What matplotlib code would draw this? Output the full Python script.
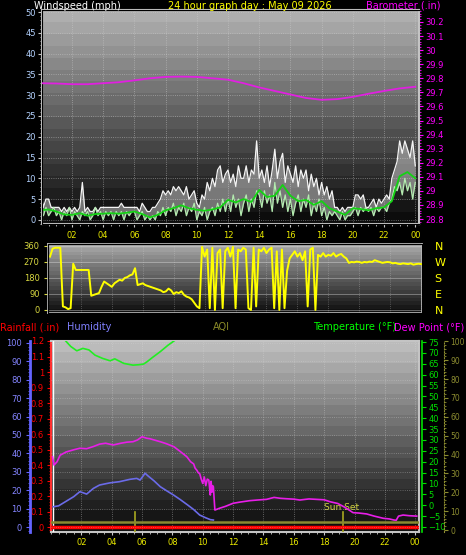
import numpy as np
import matplotlib
matplotlib.use("Agg")
import matplotlib.pyplot as plt
from matplotlib.colors import LinearSegmentedColormap
from matplotlib.ticker import MultipleLocator, FuncFormatter

W, H = 466, 555

# ---- wind, 10 minute samples (mph) ----
step10 = 1 / 6
gust = [7, 3, 5, 5, 3, 3, 3, 3, 2, 3, 2, 3, 2, 3, 2, 3, 9, 2, 3, 2, 2, 3, 2, 3,
        3, 3, 3, 3, 3, 3, 3, 4, 3, 3, 3, 3, 3, 3, 2, 4, 3, 2, 2, 3, 3, 4, 5, 7,
        6, 7, 6, 8, 7, 8, 7, 6, 8, 5, 6, 7, 4, 3, 6, 5, 9, 7, 10, 8, 12, 13, 9, 11,
        12, 9, 11, 8, 13, 10, 10, 13, 9, 12, 11, 19, 10, 12, 9, 13, 8, 12,
        17, 10, 14, 16, 9, 13, 11, 9, 13, 8, 12, 10, 12, 7, 11, 8, 10, 6,
        9, 6, 8, 5, 7, 3, 3, 2, 3, 2, 3, 3, 3, 6, 6, 5, 6, 3, 3, 4, 5, 3, 5, 4,
        5, 6, 5, 10, 12, 14, 19, 16, 19, 17, 15, 19, 13]
speed = [2, 1, 3, 1, 2, 3, 1, 2, 0, 2, 1, 3, 0, 2, 1, 0, 2, 1, 2, 0, 1, 3, 1, 2,
         0, 2, 1, 2, 0, 2, 1, 2, 0, 2, 1, 2, 2, 0, 1, 2, 0, 1, 0, 1, 0, 2, 1, 3,
         1, 3, 2, 4, 1, 3, 2, 4, 1, 3, 2, 4, 0, 2, 1, 3, 0, 2, 3, 1, 4, 2, 5, 2,
         5, 2, 6, 3, 5, 1, 4, 6, 2, 5, 3, 7, 6, 3, 7, 4, 6, 2, 9, 4, 7, 3, 6, 2,
         5, 1, 4, 6, 2, 5, 3, 6, 1, 4, 2, 5, 1, 3, 0, 2, 1, 2, 1, 0, 2, 0, 1, 1,
         2, 3, 1, 3, 2, 3, 2, 3, 1, 3, 2, 3, 3, 2, 4, 5, 8, 7, 9, 6, 10, 7, 9, 5, 9]
wind_hours = np.arange(len(gust)) * step10

avg_wind = [2.3, 2.5, 2.0, 1.3, 1.2, 1.6, 1.0, 1.4, 1.5, 1.6, 1.5, 1.7, 2.0, 1.4,
            0.6, 1.2, 2.3, 2.8, 3.5, 2.8, 2.4, 2.2, 2.5, 3.0, 4.8, 4.2, 5.0, 4.3,
            7.2, 5.5, 5.8, 8.4, 5.8, 4.5, 4.8, 3.6, 4.5, 2.8, 2.0, 1.2, 2.8, 2.6,
            2.3, 2.8, 3.0, 4.5, 10.5, 11.5, 10.0]
avg_hours = np.arange(len(avg_wind)) * 0.5

# ---- barometer, hourly (in) ----
baro = [29.765, 29.763, 29.758, 29.758, 29.765, 29.772, 29.785, 29.80, 29.81,
        29.812, 29.81, 29.80, 29.79, 29.765, 29.735, 29.71, 29.685, 29.66,
        29.647, 29.652, 29.668, 29.69, 29.71, 29.728, 29.74]
baro_hours = np.arange(len(baro))

# ---- wind direction, 10 minute samples (deg) ----
wind_dir = [300, 345, 350, 350, 350, 20, 15, 5, 10, 260, 225, 225,
            225, 225, 225, 225, 80, 85, 90, 95, 130, 160, 150, 140,
            130, 150, 160, 170, 165, 180, 185, 195, 200, 235, 140, 145,
            150, 140, 135, 130, 125, 120, 115, 110, 100, 105, 120, 110,
            90, 100, 95, 105, 85, 75, 70, 60, 40, 20, 10, 355,
            300, 340, 10, 350, 0, 320, 340, 10, 330, 350, 300, 355,
            10, 340, 330, 350, 340, 10, 0, 350, 20, 340, 330, 350,
            320, 340, 350, 10, 330, 0, 340, 10, 220, 290, 310, 330,
            300, 320, 280, 330, 20, 340, 350, 0, 310, 300, 320, 300,
            310, 305, 320, 300, 310, 315, 300, 290, 265, 270, 268, 272,
            270, 265, 270, 268, 272, 270, 280, 275, 270, 265, 268, 270,
            268, 262, 265, 260, 258, 262, 260, 258, 262, 255, 258, 260, 258]
dir_hours = np.arange(len(wind_dir)) * step10

# ---- bottom panel ----
hum_hours = [0.15, 0.5, 1.0, 1.5, 1.9, 2.35, 2.8, 3.2, 3.6, 3.9, 4.5, 5.2, 5.65,
             5.87, 6.2, 6.4, 6.8, 7.2, 7.6, 8.07, 8.5, 9.0, 9.4, 9.8, 10.2, 10.5, 10.7]
humidity = [11, 11.5, 14, 16.5, 19.2, 17.9, 21, 22.8, 23.5, 24, 24.6, 25.9, 26.4,
            25.5, 29.2, 27.7, 25, 21.9, 19.8, 17.4, 15, 12, 9.5, 6.5, 5, 4, 3.8]

temp_hours = [0.0, 0.3, 0.6, 0.92, 1.3, 1.7, 2.1, 2.5, 2.9, 3.4, 3.9, 4.2, 4.8,
              5.4, 5.8, 6.1, 6.3, 6.7, 7.2, 7.7, 8.2, 8.5]
temperature = [81, 79, 77.5, 75.9, 73, 71, 72.1, 71.4, 69, 67.5, 66.4, 67.3, 65.2,
               64.4, 64.6, 64.9, 65.8, 68, 70.6, 73.5, 76, 78]

dew_hours = [0.1, 0.2, 0.4, 0.6, 1.0, 1.5, 1.9, 2.35, 2.8, 3.2, 3.6, 4.1, 4.6, 5.0,
             5.4, 5.7, 6.0, 6.3, 6.5, 6.8, 7.2, 7.6, 8.1, 8.5, 8.95, 9.2, 9.4, 9.5,
             9.6, 9.7, 9.8, 9.9, 10.0, 10.1, 10.2, 10.3, 10.4, 10.45, 10.5, 10.55,
             10.6, 10.65, 10.7, 10.75, 10.8, 11.1, 11.5, 12.0, 12.5, 13.1, 13.6,
             14.2, 14.7, 15.1, 15.5, 16.0, 16.4, 17.0, 17.5, 18.0, 18.4, 18.9,
             19.3, 19.6, 19.9, 20.3, 20.8, 21.3, 21.9, 22.3, 22.6, 22.75, 22.9,
             23.2, 23.6, 24.1]
dew_point = [22.3, 18.5, 20, 23, 24.5, 25.5, 26.2, 26, 27, 28.1, 28.5, 27.7, 28.5,
             29, 29.2, 30, 31.5, 30.8, 30.6, 30, 29.2, 28.3, 26.9, 24.8, 22.3, 20,
             19, 17, 16.2, 15, 14.5, 12, 10, 13, 9, 12, 11.6, 8, 4.7, 11, 6, 9,
             8.5, 3, -2.2, -1.4, -0.5, 0.9, 1.5, 2.1, 2.4, 2.7, 3.6, 3.2, 3, 2.8,
             2.4, 2.9, 2.7, 2.5, 1.6, 0.8, -0.7, -2, -3.4, -3.6, -4, -5, -6, -6.3,
             -6.8, -6.9, -5, -4.5, -4.8, -5]

rain_hours = [0, 24.25]
rainfall = [0.0, 0.0]
aqi_hours = [0, 24.25]
aqi = [4.4, 4.4]
sunrise, sunset = 5.54, 19.23

hour_ticks = list(range(2, 25, 2))
hour_labels = ['02', '04', '06', '08', '10', '12', '14', '16', '18', '20', '22', '00']


fig = plt.figure(figsize=(W / 100, H / 100), dpi=100, facecolor='black')


def box(l, t, r, b):
    ax = fig.add_axes([l / W, 1 - b / H, (r - l) / W, (b - t) / H])
    ax.set_facecolor('black')
    return ax


def shade(ax, top, bottom, bands=18):
    cmap = LinearSegmentedColormap.from_list('shade', [bottom, top])
    vals = np.floor(np.linspace(1, 0, 300) * bands) / bands
    ax.imshow(vals[:, None], cmap=cmap, vmin=0, vmax=1, extent=(0, 1, 0, 1),
              transform=ax.transAxes, aspect='auto', zorder=0, interpolation='nearest')


fmt_g = FuncFormatter(lambda v, p: f'{v:.2f}'.rstrip('0').rstrip('.'))
TS = 6

# ---------- windspeed / barometer ----------
ax1 = box(42, 10, 419, 224)
shade(ax1, '#b8b8b8', '#0c0c0c')
ax1.fill_between(wind_hours, speed, gust, color='#e8e8e8', alpha=0.45, lw=0, zorder=2)
ax1.plot(wind_hours, gust, color='#f4f4f4', lw=0.9, zorder=3)
ax1.plot(wind_hours, speed, color='#b4ecb0', lw=0.9, zorder=4)
ax1.plot(avg_hours, avg_wind, color='#14d214', lw=1.3, zorder=5)
ax1.set_xlim(0.08, 24.24)
ax1.set_ylim(-1, 50.5)
ax1.yaxis.set_major_locator(MultipleLocator(5))
ax1.yaxis.set_minor_locator(MultipleLocator(1))
ax1.set_xticks(hour_ticks, hour_labels)
ax1.xaxis.set_minor_locator(MultipleLocator(0.5))
ax1.tick_params(axis='y', colors='#c8c8c8', labelcolor='#b4d2ff', labelsize=TS,
                length=3, width=0.8, pad=1.5)
ax1.tick_params(axis='y', which='minor', colors='#c8c8c8', length=1.5)
ax1.tick_params(axis='x', colors='#c8c8c8', labelcolor='#e8e800', labelsize=TS,
                length=2, pad=3)
ax1.tick_params(axis='x', which='minor', colors='#c8c8c8', length=1.5)
ax1.grid(True, color='#d0d0d0', ls=':', lw=0.6, alpha=0.6)
for s in ax1.spines.values():
    s.set_color('#c4c4c4')
    s.set_linewidth(1.5)

axb = ax1.twinx()
axb.plot(baro_hours, baro, color='#e020e0', lw=1.3, zorder=6)
axb.set_ylim(28.765, 30.285)
axb.yaxis.set_major_locator(MultipleLocator(0.1))
axb.yaxis.set_minor_locator(MultipleLocator(0.02))
axb.yaxis.set_major_formatter(fmt_g)
axb.tick_params(axis='y', colors='#ff00ff', labelcolor='#ff00ff', labelsize=TS,
                length=3, pad=1.5)
axb.tick_params(axis='y', which='minor', colors='#ff00ff', length=1.5)
axb.spines['right'].set_color('#c4c4c4')

# ---------- wind direction ----------
ax2 = box(48, 244, 422, 313)
shade(ax2, '#b0b0b0', '#101010')
ax2.plot(dir_hours, wind_dir, color='#ffff00', lw=1.4, zorder=3)
ax2.set_xlim(-0.13, 24.06)
ax2.set_ylim(-17, 371)
ax2.set_yticks([0, 90, 180, 270, 360])
ax2.set_xticks(hour_ticks)
ax2.tick_params(axis='x', length=0, labelbottom=False)
ax2.tick_params(axis='y', colors='#d8d840', labelcolor='#d8d840', labelsize=TS,
                length=3, pad=3)
ax2.grid(axis='y', color='#d8d8d8', lw=0.6, alpha=0.5)
ax2.grid(axis='x', color='#d8d8d8', ls=':', lw=0.6, alpha=0.4)
for s in ax2.spines.values():
    s.set_color('#c4c4c4')
    s.set_linewidth(1.2)

ax2r = ax2.twinx()
ax2r.set_ylim(-17, 371)
ax2r.set_yticks([0, 90, 180, 270, 360], ['N', 'E', 'S', 'W', 'N'])
ax2r.tick_params(axis='y', length=0, pad=9, labelcolor='#ffff00', labelsize=8)

# ---------- rain / humidity / temperature / aqi ----------
ax3 = box(51, 341, 419, 532)
shade(ax3, '#c6c6c6', '#0c0c0c')
ax3.plot(rain_hours, rainfall, color='#ff0000', lw=2.5, zorder=6)
ax3.set_xlim(0, 24.25)
ax3.set_ylim(-0.032, 1.2)
ax3.yaxis.set_major_locator(MultipleLocator(0.1))
ax3.yaxis.set_minor_locator(MultipleLocator(0.02))
ax3.yaxis.set_major_formatter(fmt_g)
ax3.set_xticks(hour_ticks, hour_labels)
ax3.xaxis.set_minor_locator(MultipleLocator(0.5))
ax3.tick_params(axis='y', colors='#ff0000', labelcolor='#ff0000', labelsize=TS,
                length=3, pad=2)
ax3.tick_params(axis='y', which='minor', colors='#ff0000', length=1.2)
ax3.tick_params(axis='x', colors='#c8c8c8', labelcolor='#e8e800', labelsize=TS,
                length=2, pad=2)
ax3.tick_params(axis='x', which='minor', colors='#c8c8c8', length=1.5)
ax3.grid(axis='x', color='#d8d8d8', ls=':', lw=0.6, alpha=0.5)
for s in ax3.spines.values():
    s.set_color('#c4c4c4')
    s.set_linewidth(1.5)
ax3.spines['left'].set_color('#ff3030')
ax3.spines['left'].set_linestyle((0, (2, 1)))
ax3.plot([0.006, 0.006], [0, 1], transform=ax3.transAxes, color='white', lw=1, zorder=5)
ax3.axvline(sunrise, ymin=0, ymax=0.106, color='#a8a820', lw=1.2, zorder=5)
ax3.axvline(sunset, ymin=0, ymax=0.106, color='#a8a820', lw=1.2, zorder=5)
ax3.text(sunset - 0.09, 0.127, 'Sun Set', transform=ax3.get_xaxis_transform(),
         color='#d4d440', fontsize=6.5, ha='center', va='center', zorder=6)

axh = ax3.twinx()
axh.yaxis.tick_left()
axh.spines['left'].set_position(('axes', -21 / 368))
axh.spines['left'].set_visible(True)
axh.spines['left'].set_color('#6464ff')
axh.spines['left'].set_linewidth(2)
for k in ('right', 'top', 'bottom'):
    axh.spines[k].set_visible(False)
axh.plot(hum_hours, humidity, color='#6b6be8', lw=1.2)
axh.set_ylim(-2.7, 101)
axh.yaxis.set_major_locator(MultipleLocator(10))
axh.yaxis.set_minor_locator(MultipleLocator(2))
axh.tick_params(axis='y', colors='#6464ff', labelcolor='#8484ff', labelsize=TS,
                length=3, pad=3)
axh.tick_params(axis='y', which='minor', colors='#6464ff', length=1.2)
axh.grid(axis='y', color='#d8d8d8', ls=':', lw=0.6, alpha=0.45)

axt = ax3.twinx()
axt.spines['right'].set_position(('axes', 1 + 3 / 368))
axt.spines['right'].set_color('#00e000')
axt.spines['right'].set_linewidth(1.2)
for k in ('left', 'top', 'bottom'):
    axt.spines[k].set_visible(False)
axt.plot(temp_hours, temperature, color='#22ee22', lw=1.2)
axt.plot(dew_hours, dew_point, color='#e81ee8', lw=1.2)
axt.set_ylim(-12.3, 75.5)
axt.yaxis.set_major_locator(MultipleLocator(5))
axt.tick_params(axis='y', colors='#00e000', labelcolor='#00e000', labelsize=TS,
                length=3, pad=1.5)

axa = ax3.twinx()
axa.spines['right'].set_position(('axes', 1 + 25 / 368))
axa.spines['right'].set_color('#8c8c30')
axa.spines['right'].set_linestyle(':')
for k in ('left', 'top', 'bottom'):
    axa.spines[k].set_visible(False)
axa.plot(aqi_hours, aqi, color='#8a8a30', lw=1.8)
axa.set_ylim(-1.06, 100.2)
axa.yaxis.set_major_locator(MultipleLocator(10))
axa.yaxis.set_minor_locator(MultipleLocator(2))
axa.tick_params(axis='y', colors='#8c8c30', labelcolor='#8c8c30', labelsize=5.5,
                length=3, pad=1.5)
axa.tick_params(axis='y', which='minor', colors='#8c8c30', length=1.2)

# ---------- titles ----------
def ftext(x, y, s, color, ha='left', **kw):
    fig.text(x / W, 1 - y / H, s, color=color, ha=ha, va='center', fontsize=7, **kw)

ftext(34, 6, 'Windspeed (mph)', 'white')
ftext(250, 6, '24 hour graph day : May 09 2026', '#ffff00', ha='center')
ftext(440, 6, 'Barometer (.in)', '#ff00ff', ha='right')
ftext(0, 327, 'Rainfall (.in)', '#ff0000')
ftext(67, 327, 'Humidity', '#8080ff')
ftext(221, 327, 'AQI', '#8c8c28', ha='center')
ftext(313, 327, 'Temperature (°F)', '#00ff00')
ftext(464, 327, 'Dew Point (°F)', '#ff00ff', ha='right')

fig.savefig('out.png', dpi=100, facecolor='black')
